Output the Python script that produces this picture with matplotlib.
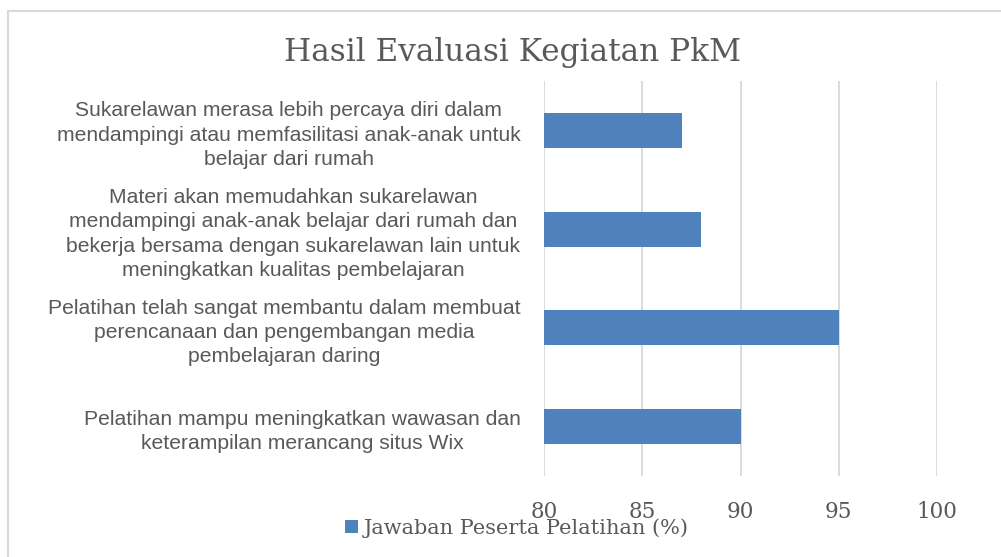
import matplotlib
matplotlib.use("Agg")
import matplotlib.pyplot as plt
from matplotlib.patches import Rectangle, Patch

categories = [
    "Pelatihan mampu meningkatkan wawasan dan\nketerampilan merancang situs Wix",
    "Pelatihan telah sangat membantu dalam membuat\nperencanaan dan pengembangan media\npembelajaran daring",
    "Materi akan memudahkan sukarelawan\nmendampingi anak-anak belajar dari rumah dan\nbekerja bersama dengan sukarelawan lain untuk\nmeningkatkan kualitas pembelajaran",
    "Sukarelawan merasa lebih percaya diri dalam\nmendampingi atau memfasilitasi anak-anak untuk\nbelajar dari rumah",
]
values = [90, 95, 88, 87]
xticks = [80, 85, 90, 95, 100]
series_name = "Jawaban Peserta Pelatihan (%)"
title = "Hasil Evaluasi Kegiatan PkM"

bar_color = "#4F81BD"
text_color = "#595959"
grid_color = "#D9D9D9"
serif = ["DejaVu Serif"]
sans = ["Liberation Sans", "DejaVu Sans"]

fig = plt.figure(figsize=(10.01, 5.57), dpi=100)
ax = fig.add_axes([544/1001, 1-476/557, (937-544)/1001, (476-81)/557])

ypos = list(range(len(categories)))
ax.barh(ypos, values, height=0.355, color=bar_color, zorder=3)
ax.set_xlim(80, 100)
ax.set_ylim(-0.5, len(categories) - 0.5)
ax.set_xticks(xticks)
ax.set_xticklabels([str(t) for t in xticks], fontfamily=serif, fontsize=15.5, color=text_color)
ax.set_yticks(ypos)
ax.set_yticklabels(categories, fontfamily=sans, fontsize=15.2, color=text_color,
                   multialignment="center", linespacing=1.36)
ax.tick_params(axis="y", length=0, pad=17)
ax.tick_params(axis="x", length=0, pad=18)
ax.xaxis.grid(True, color=grid_color, linewidth=1.3, zorder=0)
for s in ax.spines.values():
    s.set_visible(False)

fig.text(513/1001, 1-53/557, title, ha="center", va="center",
         fontfamily=serif, fontsize=22.5, color=text_color)

handle = Patch(facecolor=bar_color, edgecolor="none")
leg = fig.legend([handle], [series_name], loc="center", bbox_to_anchor=(517/1001, 1-528/557),
                 frameon=False, handlelength=0.6, handleheight=0.6, handletextpad=0.3,
                 borderpad=0.0, prop={"family": serif, "size": 15})
for t in leg.get_texts():
    t.set_color(text_color)

fig.patches.append(Rectangle((7.5/1001, -0.1), 1.2, 1 - 10.5/557 + 0.1, transform=fig.transFigure,
                             fill=False, edgecolor=grid_color, linewidth=1.5, zorder=0))

fig.savefig("out.png", dpi=100, facecolor="white")
